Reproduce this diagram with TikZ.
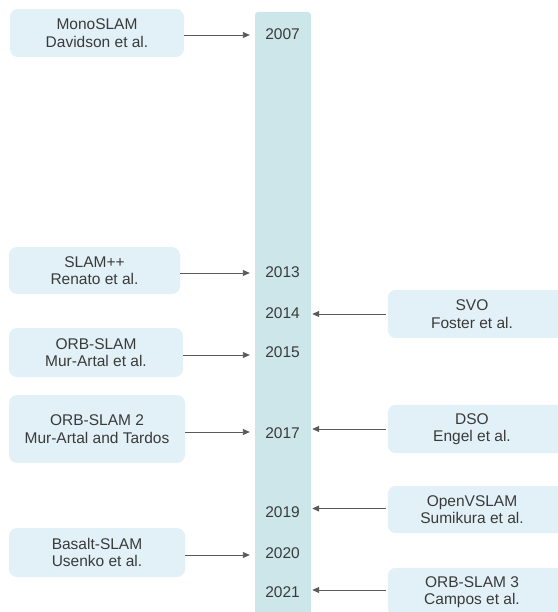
\documentclass[tikz,border=0pt]{standalone}
\usepackage{fontspec}
\setmainfont{Liberation Sans}
\usetikzlibrary{arrows.meta,backgrounds}
\definecolor{boxc}{HTML}{E2F1F8}
\definecolor{barc}{HTML}{CDE6EA}
\definecolor{txtc}{HTML}{3A3A3A}
\definecolor{arrc}{HTML}{5A5A5A}
\begin{document}
\begin{tikzpicture}[x=1pt,y=-1pt,
  font=\fontsize{15.5}{17.5}\selectfont,
  lbox/.style={fill=boxc, rounded corners=8pt, align=center, text=txtc, inner sep=0pt},
  rbox/.style={align=center, text=txtc, inner sep=0pt, minimum width=168pt, minimum height=48pt},
  rfill/.style={fill=boxc, rounded corners=8pt},
  yearnode/.style={text=txtc, inner sep=0pt, minimum width=65pt},
  larr/.style={draw=arrc, line width=0.9pt, -{Triangle[length=7pt,width=6pt]}},
  rarr/.style={larr, shorten >=-3pt}]
\useasboundingbox (0,0) rectangle (557,612);
\fill[barc, rounded corners=3pt] (255,12) rectangle (311,630);

% years
\node[yearnode] (y2007) at (282.5,34) {2007};
\node[yearnode] (y2013) at (282.5,272) {2013};
\node[yearnode] (y2014) at (282.5,313) {2014};
\node[yearnode] (y2015) at (282.5,352) {2015};
\node[yearnode] (y2017) at (282.5,433) {2017};
\node[yearnode] (y2019) at (282.5,512) {2019};
\node[yearnode] (y2020) at (282.5,553) {2020};
\node[yearnode] (y2021) at (282.5,592) {2021};

% left boxes
\node[lbox, minimum width=174pt, minimum height=48pt] (mono) at (97,33) {MonoSLAM\\Davidson et al.};
\node[lbox, minimum width=171pt, minimum height=47pt] (slampp) at (94.5,270.5) {SLAM++\\Renato et al.};
\node[lbox, minimum width=174pt, minimum height=49pt] (orb) at (96,352.5) {ORB-SLAM\\Mur-Artal et al.};
\node[lbox, minimum width=176pt, minimum height=68pt] (orb2) at (97,429) {ORB-SLAM 2\\Mur-Artal and Tardos};
\node[lbox, minimum width=176pt, minimum height=49pt] (basalt) at (97,552.5) {Basalt-SLAM\\Usenko et al.};

% right boxes
\node[rbox] (svo) at (472,314) {SVO\\Foster et al.};
\node[rbox] (dso) at (472,429) {DSO\\Engel et al.};
\node[rbox, minimum height=47pt] (openv) at (472,509.5) {OpenVSLAM\\Sumikura et al.};
\node[rbox] (orb3) at (472,592) {ORB-SLAM 3\\Campos et al.};
\begin{scope}[on background layer]
\foreach \b in {svo,dso,openv,orb3}
  \fill[rfill] (\b.north west) rectangle ([xshift=12pt]\b.south east);
\end{scope}

% arrows
\draw[larr] ([yshift=-2pt]mono.east) -- ([yshift=-2pt]mono.east -| y2007.west);
\draw[larr] ([yshift=-2.5pt]slampp.east) -- ([yshift=-2.5pt]slampp.east -| y2013.west);
\draw[larr] ([yshift=-2.5pt]orb.east) -- ([yshift=-2.5pt]orb.east -| y2015.west);
\draw[larr] ([yshift=-3pt]orb2.east) -- ([yshift=-3pt]orb2.east -| y2017.west);
\draw[larr] ([yshift=-2.5pt]basalt.east) -- ([yshift=-2.5pt]basalt.east -| y2020.west);

\draw[rarr] ([xshift=-2pt]svo.west) -- (svo.west -| y2014.east);
\draw[rarr] ([xshift=-2pt]dso.west) -- (dso.west -| y2017.east);
\draw[rarr] ([xshift=-2pt,yshift=1pt]openv.west) -- ([yshift=1pt]openv.west -| y2019.east);
\draw[rarr] ([xshift=-2pt,yshift=2pt]orb3.west) -- ([yshift=2pt]orb3.west -| y2021.east);
\end{tikzpicture}
\end{document}
